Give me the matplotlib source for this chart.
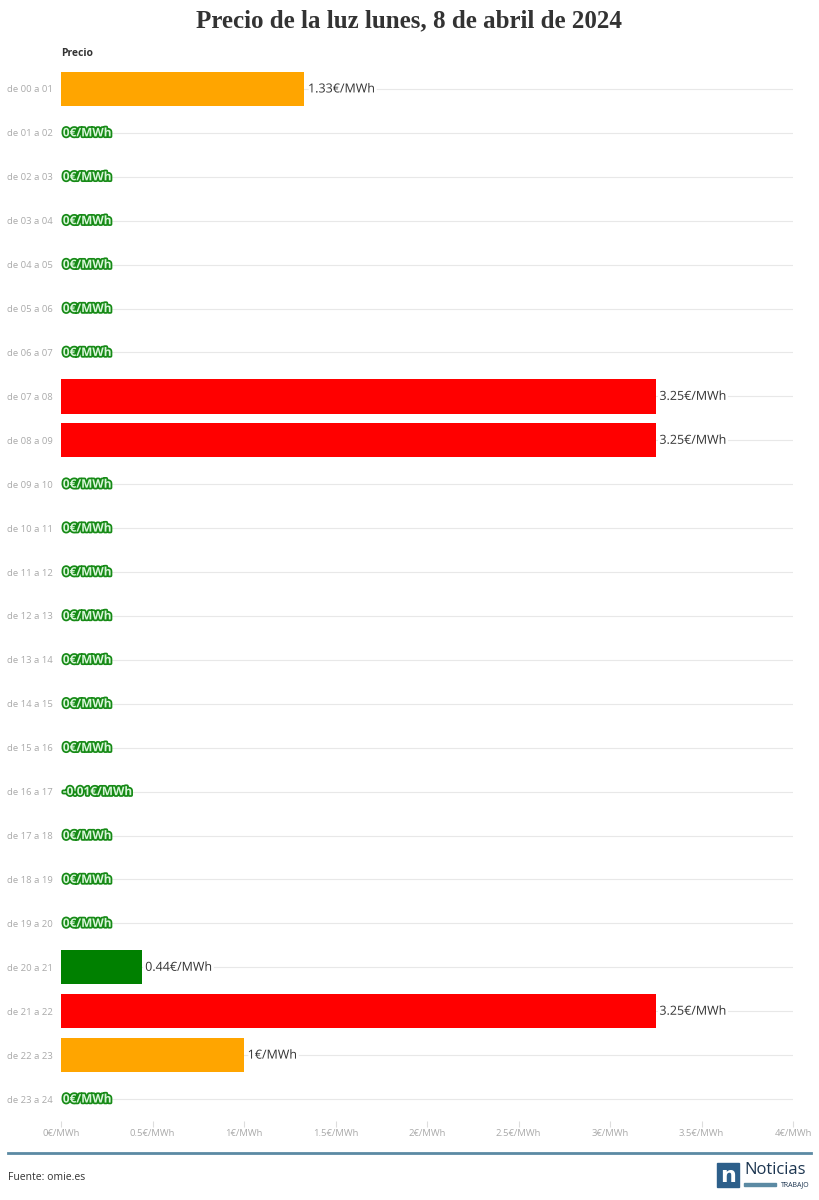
import matplotlib.pyplot as plt
import matplotlib.patheffects as pe
from matplotlib.patches import Rectangle

horas = ["de %02d a %02d" % (h, h + 1) for h in range(24)]
precios = [1.33, 0, 0, 0, 0, 0, 0, 3.25, 3.25, 0, 0, 0, 0, 0, 0, 0, -0.01,
           0, 0, 0, 0.44, 3.25, 1, 0]
etiquetas = ["1.33€/MWh", "0€/MWh", "0€/MWh", "0€/MWh", "0€/MWh", "0€/MWh",
             "0€/MWh", "3.25€/MWh", "3.25€/MWh", "0€/MWh", "0€/MWh", "0€/MWh",
             "0€/MWh", "0€/MWh", "0€/MWh", "0€/MWh", "-0.01€/MWh", "0€/MWh",
             "0€/MWh", "0€/MWh", "0.44€/MWh", "3.25€/MWh", "1€/MWh", "0€/MWh"]
colores = ["#FFA500", "#008000", "#008000", "#008000", "#008000", "#008000",
           "#008000", "#FF0000", "#FF0000", "#008000", "#008000", "#008000",
           "#008000", "#008000", "#008000", "#008000", "#008000", "#008000",
           "#008000", "#008000", "#008000", "#FF0000", "#FFA500", "#008000"]
xticks = [0, 0.5, 1, 1.5, 2, 2.5, 3, 3.5, 4]
xlabels = ["0€/MWh", "0.5€/MWh", "1€/MWh", "1.5€/MWh", "2€/MWh", "2.5€/MWh",
           "3€/MWh", "3.5€/MWh", "4€/MWh"]

fam = ["Open Sans", "DejaVu Sans"]

W, H = 819, 1200
fig = plt.figure(figsize=(W / 100, H / 100), dpi=100)
ax = fig.add_axes([61 / W, 1 - 1121 / H, (793 - 61) / W, (1121 - 67) / H])

y = list(range(24))
for i in y:
    ax.axhline(i, color="#e8e8e8", lw=0.8, zorder=0)
ax.barh(y, [max(p, 0) for p in precios], height=0.78, color=colores, zorder=2)

for i, (p, t) in enumerate(zip(precios, etiquetas)):
    if p > 0.1:
        txt = ax.text(p + 0.02, i, t, va="center", ha="left", fontsize=9,
                      color="#333333", family=fam, zorder=3)
        txt.set_path_effects([pe.withStroke(linewidth=4, foreground="white")])
    else:
        txt = ax.text(0.01, i, t, va="center", ha="left", fontsize=8.5,
                      color="#d8f5d8", family=fam, weight="bold", zorder=3)
        txt.set_path_effects([pe.withStroke(linewidth=2.5, foreground="#168a16")])

ax.set_xlim(0, 4)
ax.set_ylim(23.5, -0.5)
ax.set_yticks(y)
ax.set_yticklabels(horas, fontsize=6.8, color="#aaaaaa", family=fam)
ax.set_xticks(xticks)
ax.set_xticklabels(xlabels, fontsize=6.8, color="#aaaaaa", family=fam)
ax.tick_params(axis="y", length=0, pad=6)
ax.tick_params(axis="x", length=4, color="#dddddd", pad=2)
for s in ax.spines.values():
    s.set_visible(False)

fig.text(0.5, 1 - 21 / H, "Precio de la luz lunes, 8 de abril de 2024", ha="center",
         va="center", fontsize=18, weight="bold", family="Liberation Serif", color="#333333")
fig.text(61 / W, 1 - 53 / H, "Precio", ha="left", va="center", fontsize=7.5,
         weight="bold", family=fam, color="#333333")

fig.add_artist(plt.Line2D([8 / W, 811 / W], [1 - 1153 / H] * 2, color="#5b8aa3", lw=2,
                          transform=fig.transFigure))
fig.text(8 / W, 1 - 1177 / H, "Fuente: omie.es", ha="left", va="center", fontsize=7.5,
         family=fam, color="#333333")

# logo
fig.add_artist(Rectangle((717 / W, 1 - 1187 / H), 22 / W, 24 / H, color="#2d5f8a",
                         transform=fig.transFigure))
fig.text(728 / W, 1 - 1176 / H, "n", ha="center", va="center", fontsize=16,
         weight="bold", color="white", family="DejaVu Sans")
fig.text(744 / W, 1 - 1170 / H, "Noticias", ha="left", va="center", fontsize=12,
         color="#1c3550", family=fam)
fig.add_artist(Rectangle((744 / W, 1 - 1186 / H), 32 / W, 3 / H, color="#5b8aa3",
                         transform=fig.transFigure))
fig.text(810 / W, 1 - 1184.5 / H, "TRABAJO", ha="right", va="center", fontsize=5,
         color="#1c3550", family=fam)

fig.savefig("out.png", dpi=100, facecolor="white")
